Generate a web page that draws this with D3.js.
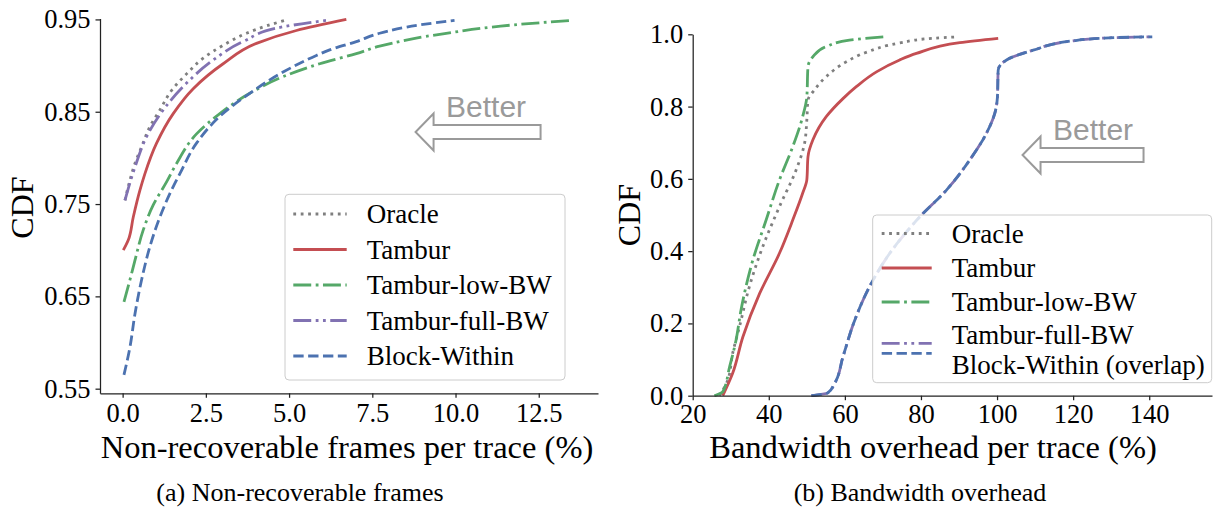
<!DOCTYPE html>
<html>
<head>
<meta charset="utf-8">
<script src="https://cdn.jsdelivr.net/npm/d3@7"></script>
<style>
  html, body { margin: 0; padding: 0; background: #fff; }
  svg text { font-family: "Liberation Serif", "Times New Roman", serif; }
</style>
</head>
<body>
<svg id="fig" width="1214" height="513"></svg>
<script>
// ---- (a) non-recoverable frames per trace (%) vs CDF ----
const frOracleX   = [0.07, 0.22, 0.37, 0.57, 0.82, 1.12, 1.47, 1.92, 2.42, 3.02, 3.72, 4.32, 4.87];
const frOracleY   = [0.754, 0.776, 0.794, 0.812, 0.834, 0.852, 0.873, 0.891, 0.908, 0.922, 0.935, 0.943, 0.949];
const frTamburX   = [0.02, 0.17, 0.32, 0.52, 0.67, 1.02, 1.52, 2.12, 3.02, 4.02, 5.22, 6.72];
const frTamburY   = [0.700, 0.711, 0.736, 0.765, 0.783, 0.816, 0.848, 0.875, 0.902, 0.924, 0.938, 0.950];
const frLowBwX    = [0.04, 0.22, 0.37, 0.62, 0.92, 1.32, 1.62, 2.22, 2.92, 3.82, 4.82, 5.92, 7.02, 7.72, 9.72, 11.72, 13.52];
const frLowBwY    = [0.644, 0.668, 0.689, 0.722, 0.749, 0.774, 0.794, 0.826, 0.848, 0.870, 0.888, 0.902, 0.913, 0.921, 0.935, 0.944, 0.949];
const frFullBwX   = [0.07, 0.37, 0.72, 1.22, 1.92, 2.72, 3.62, 4.82, 6.12];
const frFullBwY   = [0.754, 0.790, 0.823, 0.852, 0.881, 0.906, 0.926, 0.942, 0.949];
const frBlockX    = [0.04, 0.22, 0.37, 0.57, 0.82, 1.12, 1.52, 1.72, 2.22, 2.92, 3.82, 4.82, 5.82, 6.22, 7.02, 7.72, 8.92, 9.97];
const frBlockY    = [0.565, 0.595, 0.631, 0.668, 0.704, 0.736, 0.769, 0.783, 0.816, 0.845, 0.870, 0.893, 0.911, 0.917, 0.926, 0.935, 0.944, 0.949];
const frXTicks    = [0, 2.5, 5, 7.5, 10, 12.5];
const frYTicks    = [0.55, 0.65, 0.75, 0.85, 0.95];

// ---- (b) bandwidth overhead per trace (%) vs CDF ----
const bwOracleX   = [27, 29.2, 30.5, 32.3, 34.9, 38.4, 42.8, 47.2, 49.4, 50.0, 50.3, 52.0, 55.1, 60.4, 65.6, 74.4, 83.2, 89.7];
const bwOracleY   = [0, 0.043, 0.117, 0.191, 0.302, 0.412, 0.523, 0.625, 0.698, 0.763, 0.818, 0.846, 0.883, 0.924, 0.950, 0.976, 0.989, 0.993];
const bwTamburX   = [27.9, 30.5, 33.2, 37.6, 42.8, 46.3, 48.9, 50.0, 50.3, 51.6, 55.1, 59.5, 63.0, 68.3, 74.4, 78.8, 90.2, 100.3];
const bwTamburY   = [0, 0.062, 0.163, 0.283, 0.394, 0.486, 0.560, 0.597, 0.661, 0.708, 0.772, 0.822, 0.855, 0.896, 0.929, 0.947, 0.977, 0.989];
const bwLowBwX    = [25.7, 27.9, 29.7, 31.4, 32.7, 35.8, 39.3, 42.8, 46.3, 48.9, 50.0, 50.3, 51.6, 55.1, 61.2, 70.4];
const bwLowBwY    = [0, 0.011, 0.080, 0.154, 0.237, 0.375, 0.486, 0.597, 0.689, 0.772, 0.827, 0.910, 0.938, 0.966, 0.984, 0.993];
const bwFullBwX   = [51.2, 55.5, 57.3, 59.5, 62.6, 66.5, 71.8, 79.7, 86.7, 92.8, 97.2, 99.4, 100.1, 100.3, 102.5, 109.5, 120.0, 131.4, 140.8];
const bwFullBwY   = [0, 0.008, 0.034, 0.108, 0.209, 0.302, 0.394, 0.495, 0.569, 0.652, 0.726, 0.781, 0.827, 0.901, 0.929, 0.956, 0.982, 0.991, 0.993];
const bwBlockX    = [51.2, 55.5, 57.3, 59.5, 62.6, 66.5, 71.8, 79.7, 86.7, 92.8, 97.2, 99.4, 100.1, 100.3, 102.5, 109.5, 120.0, 131.4, 140.8];
const bwBlockY    = [0, 0.008, 0.034, 0.108, 0.209, 0.302, 0.394, 0.495, 0.569, 0.652, 0.726, 0.781, 0.827, 0.901, 0.929, 0.956, 0.982, 0.991, 0.993];
const bwXTicks    = [20, 40, 60, 80, 100, 120, 140];
const bwYTicks    = [0, 0.2, 0.4, 0.6, 0.8, 1.0];

// series styling
const LW = 2.8;
const styles = {
  oracle: { color: "#7f7f7f", dash: [1 * LW, 1.65 * LW] },
  tambur: { color: "#c44e52", dash: null },
  lowbw:  { color: "#55a868", dash: [6.4 * LW, 1.6 * LW, 1 * LW, 1.6 * LW] },
  fullbw: { color: "#8172b2", dash: [6.4 * LW, 1.6 * LW, 1 * LW, 1.6 * LW, 1 * LW, 1.6 * LW] },
  block:  { color: "#4c72b0", dash: [3.7 * LW, 1.6 * LW] }
};

const zip = (xs, ys) => xs.map((x, i) => [x, ys[i]]);

const svg = d3.select("#fig");
const AXIS = "#222";
const SERIF = "'Liberation Serif', 'Times New Roman', serif";

function drawPanel(cfg) {
  const g = svg.append("g");
  const x = d3.scaleLinear().domain(cfg.xDomain).range(cfg.xRange);
  const y = d3.scaleLinear().domain(cfg.yDomain).range(cfg.yRange);

  // curves
  const line = d3.line().x(d => x(d[0])).y(d => y(d[1])).curve(d3.curveMonotoneY);
  cfg.series.forEach(s => {
    const st = styles[s.key];
    g.append("path")
      .attr("d", line(zip(s.xs, s.ys)))
      .attr("fill", "none")
      .attr("stroke", st.color)
      .attr("stroke-width", LW)
      .attr("stroke-linecap", "butt")
      .attr("stroke-dasharray", st.dash ? st.dash.join(",") : null);
  });

  // axes (left and bottom spines only)
  const xAxis = d3.axisBottom(x).tickValues(cfg.xTicks).tickFormat(cfg.xFmt)
    .tickSize(4.5).tickSizeOuter(0).tickPadding(cfg.xPad);
  const yAxis = d3.axisLeft(y).tickValues(cfg.yTicks).tickFormat(cfg.yFmt)
    .tickSize(4.5).tickSizeOuter(0).tickPadding(5);
  const gx = g.append("g").attr("transform", `translate(0,${cfg.yRange[0]})`).call(xAxis);
  const gy = g.append("g").attr("transform", `translate(${cfg.xRange[0]},0)`).call(yAxis);
  [gx, gy].forEach(a => {
    a.attr("font-family", SERIF);
    a.select(".domain").attr("stroke", AXIS).attr("stroke-width", 1.25);
    a.selectAll(".tick line").attr("stroke", AXIS).attr("stroke-width", 1.25);
    a.selectAll(".tick text").attr("fill", "#000").style("font-size", "26.5px")
      .style("font-family", SERIF);
  });

  // axis titles
  g.append("text").attr("x", cfg.xLabelPos[0]).attr("y", cfg.xLabelPos[1])
    .attr("text-anchor", "middle").style("font-size", "32.5px").text(cfg.xLabel);
  g.append("text")
    .attr("transform", `translate(${cfg.yLabelPos[0]},${cfg.yLabelPos[1]}) rotate(-90)`)
    .attr("text-anchor", "middle").style("font-size", "32px").text("CDF");

  // "Better" annotation: hollow arrow pointing to lower values
  const tx = x(cfg.better[0]), ty = y(cfg.better[1]);
  const headLen = 18, headHalf = 18.5, shaftHalf = 7, len = cfg.better[2];
  const pts = [
    [tx, ty], [tx + headLen, ty - headHalf], [tx + headLen, ty - shaftHalf],
    [tx + len, ty - shaftHalf], [tx + len, ty + shaftHalf], [tx + headLen, ty + shaftHalf],
    [tx + headLen, ty + headHalf]
  ];
  g.append("path").attr("d", "M" + pts.map(p => p.join(",")).join("L") + "Z")
    .attr("fill", "#fff").attr("stroke", "#9a9a9a").attr("stroke-width", 2);
  g.append("text").attr("x", tx + 30.5).attr("y", ty - 15.5)
    .style("font-family", "'Liberation Sans', Arial, sans-serif")
    .style("font-size", "30px").attr("fill", "#9a9a9a").text("Better");

  // legend
  const L = cfg.legend;
  g.append("rect").attr("x", L.box[0]).attr("y", L.box[1])
    .attr("width", L.box[2]).attr("height", L.box[3]).attr("rx", 4)
    .attr("fill", "#fff").attr("fill-opacity", 0.8)
    .attr("stroke", "#cccccc").attr("stroke-width", 1);
  L.items.forEach(it => {
    const st = styles[it.key];
    g.append("line").attr("x1", L.lineX[0]).attr("x2", L.lineX[1])
      .attr("y1", it.lineY).attr("y2", it.lineY)
      .attr("stroke", st.color).attr("stroke-width", LW)
      .attr("stroke-dasharray", st.dash ? st.dash.join(",") : null);
    if (it.label) {
      g.append("text").attr("x", L.textX).attr("y", it.textY)
        .attr("dominant-baseline", "central")
        .style("font-size", "27px").text(it.label);
    }
  });

  // caption
  svg.append("text").attr("x", cfg.caption[0]).attr("y", cfg.caption[1])
    .attr("text-anchor", "middle").style("font-size", "26px").text(cfg.caption[2]);
}

drawPanel({
  xDomain: [-0.68, 14.28], xRange: [100, 598],
  yDomain: [0.545, 0.951], yRange: [393.3, 18.5],
  xTicks: frXTicks, yTicks: frYTicks, xPad: 5.5,
  xFmt: d3.format(".1f"), yFmt: d3.format(".2f"),
  xLabel: "Non-recoverable frames per trace (%)", xLabelPos: [347, 457.5],
  yLabelPos: [33, 207.5],
  better: [8.8, 0.828, 125],
  series: [
    { key: "oracle", xs: frOracleX, ys: frOracleY },
    { key: "tambur", xs: frTamburX, ys: frTamburY },
    { key: "lowbw",  xs: frLowBwX,  ys: frLowBwY },
    { key: "fullbw", xs: frFullBwX, ys: frFullBwY },
    { key: "block",  xs: frBlockX,  ys: frBlockY }
  ],
  legend: {
    box: [285, 194.3, 280, 185.7], lineX: [293.3, 346.7], textX: 366.7,
    items: [
      { key: "oracle", lineY: 214, textY: 214, label: "Oracle" },
      { key: "tambur", lineY: 249.5, textY: 249.5, label: "Tambur" },
      { key: "lowbw",  lineY: 285, textY: 285, label: "Tambur-low-BW" },
      { key: "fullbw", lineY: 320.5, textY: 320.5, label: "Tambur-full-BW" },
      { key: "block",  lineY: 356, textY: 356, label: "Block-Within" }
    ]
  },
  caption: [300, 501, "(a) Non-recoverable frames"]
});

drawPanel({
  xDomain: [20, 156.5], xRange: [692.7, 1212],
  yDomain: [0, 1], yRange: [395.7, 34.3],
  xTicks: bwXTicks, yTicks: bwYTicks, xPad: 3.5,
  xFmt: d3.format("d"), yFmt: d3.format(".1f"),
  xLabel: "Bandwidth overhead per trace (%)", xLabelPos: [933, 457.5],
  yLabelPos: [640, 215],
  better: [106.7, 0.666, 121],
  series: [
    { key: "oracle", xs: bwOracleX, ys: bwOracleY },
    { key: "tambur", xs: bwTamburX, ys: bwTamburY },
    { key: "lowbw",  xs: bwLowBwX,  ys: bwLowBwY },
    { key: "fullbw", xs: bwFullBwX, ys: bwFullBwY },
    { key: "block",  xs: bwBlockX,  ys: bwBlockY }
  ],
  legend: {
    box: [872.7, 215, 339, 167.7], lineX: [881.7, 931.7], textX: 951.7,
    items: [
      { key: "oracle", lineY: 233.5, textY: 233.5, label: "Oracle" },
      { key: "tambur", lineY: 268, textY: 268, label: "Tambur" },
      { key: "lowbw",  lineY: 302, textY: 302, label: "Tambur-low-BW" },
      { key: "fullbw", lineY: 343.3, textY: 334.5, label: "Tambur-full-BW" },
      { key: "block",  lineY: 353.3, textY: 364.5, label: "Block-Within (overlap)" }
    ]
  },
  caption: [920, 501, "(b) Bandwidth overhead"]
});
</script>
</body>
</html>
